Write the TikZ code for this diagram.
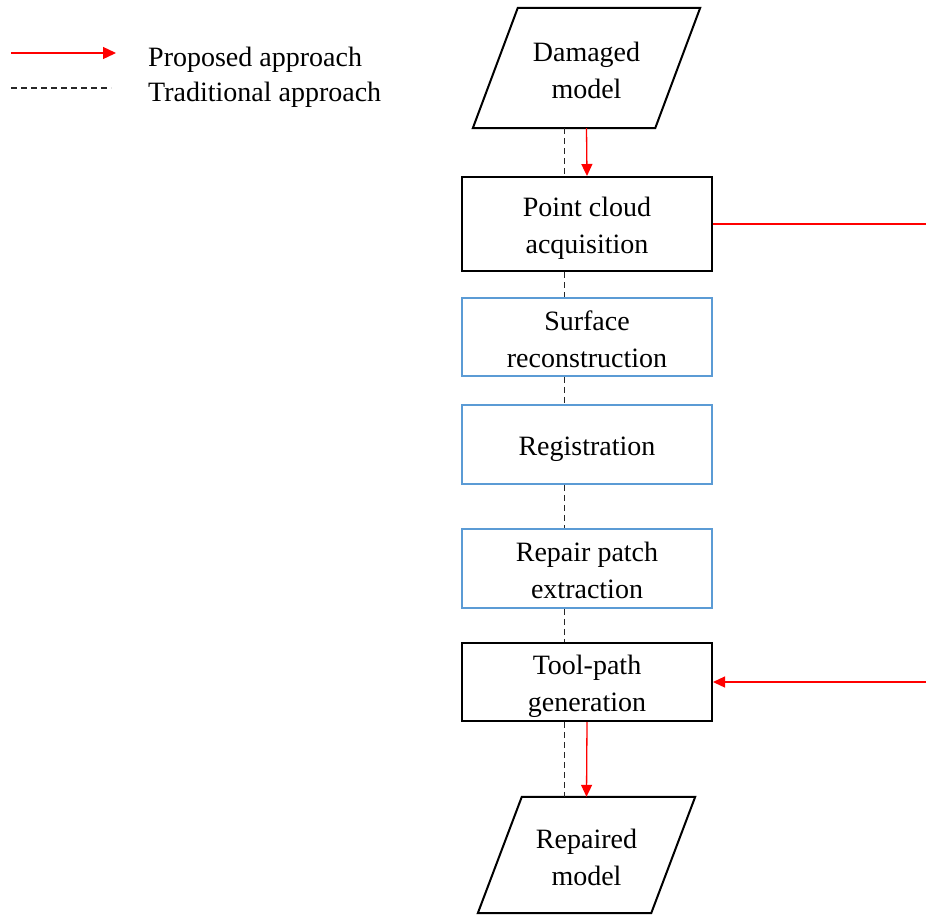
\documentclass[tikz,border=0pt]{standalone}
\usepackage{fontspec}
\setmainfont{Liberation Serif}
\usetikzlibrary{arrows.meta,positioning,calc}
\definecolor{stepblue}{RGB}{91,155,213}
\tikzset{
  txt/.style={font=\fontsize{28}{37}\selectfont, align=center, inner sep=0pt},
  blackbox/.style={draw=black, line width=2pt, minimum width=250pt, inner sep=0pt},
  bluebox/.style={draw=stepblue, line width=1.8pt, minimum width=250pt, inner sep=0pt},
  iobox/.style={inner sep=0pt},
  ioshape/.style={draw=black, line width=2pt, line join=miter},
  proposed/.style={draw=red, line width=1.3pt, -{Triangle[length=12pt,width=11pt]}},
  proposedline/.style={draw=red, line width=1.3pt},
  traditional/.style={draw=black!85, line width=1.3pt, dash pattern=on 6pt off 4pt},
}
\begin{document}
\begin{tikzpicture}[x=1pt, y=-1pt]
  \useasboundingbox (0,0) rectangle (926,914);

  % legend
  \coordinate (lgA1) at (11,53);
  \coordinate (lgA2) at (116,53);
  \coordinate (lgB1) at (11,88);
  \coordinate (lgB2) at (111,88);
  \draw[proposed, -{Triangle[length=13pt,width=12pt]}] (lgA1) -- (lgA2);
  \draw[traditional] (lgB1) -- (lgB2);
  \node[txt, anchor=base west] (lgAtext) at (148,66) {Proposed approach};
  \node[txt, anchor=base west] (lgBtext) at (148,101) {Traditional approach};

  % input / output parallelograms
  \node[iobox, minimum width=227pt, minimum height=120pt] (dm) at (586.5,68) {};
  \draw[ioshape] (dm.south west) -- ($(dm.north west)+(45,0)$) -- (dm.north east)
                 -- ($(dm.south east)+(-45,0)$) -- cycle;
  \node[txt] (dmText) at ($(dm.center)+(0,2.5)$) {Damaged\\model};

  \node[iobox, minimum width=217pt, minimum height=116pt] (rm) at (586.5,855) {};
  \draw[ioshape] (rm.south west) -- ($(rm.north west)+(44,0)$) -- (rm.north east)
                 -- ($(rm.south east)+(-44,0)$) -- cycle;
  \node[txt] (rmText) at ($(rm.center)+(0,2)$) {Repaired\\model};

  % process steps
  \node[blackbox, minimum height=94pt] (pc)  at (587,224)   {};
  \node[bluebox,  minimum height=78pt] (sr)  at (587,337)   {};
  \node[bluebox,  minimum height=79pt] (reg) at (587,444.5) {};
  \node[bluebox,  minimum height=79pt] (rp)  at (587,568.5) {};
  \node[blackbox, minimum height=78pt] (tp)  at (587,682)   {};
  \node[txt] (pcText)  at ($(pc.center)+(0,4)$)  {Point cloud\\acquisition};
  \node[txt] (srText)  at ($(sr.center)+(0,2)$)  {Surface\\reconstruction};
  \node[txt] (regText) at ($(reg.center)+(0,5)$) {Registration};
  \node[txt] (rpText)  at ($(rp.center)+(0,2)$)  {Repair patch\\extraction};
  \node[txt] (tpText)  at ($(tp.center)+(0,4)$)  {Tool-path\\generation};

  % traditional chain
  \coordinate (col) at (564.5,0);
  \draw[traditional] (dm.south -| col) -- (pc.north -| col);
  \draw[traditional] (pc.south -| col) -- (sr.north -| col);
  \draw[traditional] (sr.south -| col) -- (reg.north -| col);
  \draw[traditional] (reg.south -| col) -- (rp.north -| col);
  \draw[traditional] (rp.south -| col) -- (tp.north -| col);
  \draw[traditional] (tp.south -| col) -- (rm.north -| col);

  % proposed chain
  \draw[proposed] (dm.south) -- (pc.north);
  \draw[proposed] (tp.south) -- (rm.north);
  \coordinate (outR) at (926,224);
  \coordinate (inR) at (926,682);
  \draw[proposedline] (pc.east) -- (outR);
  \draw[proposed] (inR) -- (tp.east);
\end{tikzpicture}
\end{document}
